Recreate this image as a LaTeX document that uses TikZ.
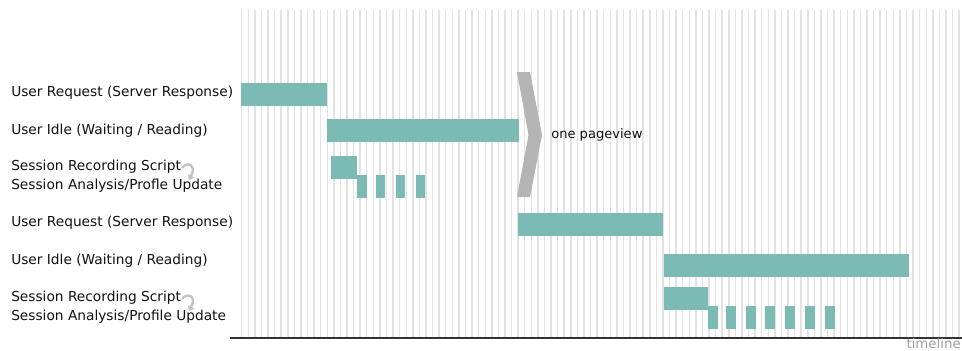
\documentclass[tikz,border=0pt]{standalone}
\usepackage{fontspec}
\setmainfont{DejaVu Sans}
\usetikzlibrary{arrows.meta}
\definecolor{barteal}{HTML}{7BBAB5}
\definecolor{gridgray}{HTML}{E2E2E2}
\definecolor{chevgray}{HTML}{B4B4B4}
\definecolor{axisdark}{HTML}{333333}
\definecolor{labeltext}{HTML}{111111}
\tikzset{
  bar/.style={fill=barteal},
  lbl/.style={anchor=west, inner sep=0pt, font=\fontsize{10.3pt}{12pt}\selectfont, text=labeltext},
  gridline/.style={draw=gridgray, line width=1.1pt},
  curlyarrow/.style={draw=chevgray!80, line width=1.8pt, -{Triangle[length=3.5pt,width=5.5pt]}},
}
\begin{document}
\begin{tikzpicture}[x=0.75pt,y=-0.75pt]
\useasboundingbox (0,0) rectangle (962,350);
% grid
\foreach \k in {0,...,109} {
  \draw[gridline] ({241.7+6.582*\k},10) -- ({241.7+6.582*\k},337);
}
% axis
\coordinate (axL) at (230,338);
\coordinate (axR) at (962,338);
\draw[axisdark, line width=1.9pt] (axL) -- (axR);
\node[anchor=base east, inner sep=0pt, text=gray!75, font=\fontsize{10pt}{12pt}\selectfont] (tl) at (961,348.5) {timeline};
% labels
\node[lbl] (l1) at (11,93) {User Request (Server Response)};
\node[lbl] (l2) at (11,131) {User Idle (Waiting / Reading)};
\node[lbl] (l3) at (11,167) {Session Recording Script};
\node[lbl] (l4) at (11,186) {Session Analysis/Profle Update};
\node[lbl] (l5) at (11,223) {User Request (Server Response)};
\node[lbl] (l6) at (11,261) {User Idle (Waiting / Reading)};
\node[lbl] (l7) at (11,298) {Session Recording Script};
\node[lbl] (l8) at (11,317) {Session Analysis/Profile Update};
% curly arrows
\draw[curlyarrow] (182,168) .. controls (187,161) and (197,165) .. (189,180);
\draw[curlyarrow] (182,299) .. controls (187,292) and (197,296) .. (189,311);
% bars group 1
\fill[bar] (241,82.5) rectangle (327,106);
\fill[bar] (327,118.5) rectangle (519,142);
\fill[bar] (331,156) rectangle (357,179);
\foreach \x in {357.3,375.7,395.7,415.7} {
  \fill[bar] (\x,175) rectangle ({\x+9.7},198);
}
% chevron
\fill[chevgray] (517,72) -- (530,72) -- (542,135) -- (530,197) -- (517,197) -- (528.5,135) -- cycle;
\node[anchor=west, inner sep=0pt, font=\fontsize{9.8pt}{12pt}\selectfont, text=labeltext] (pv) at (551,135) {one pageview};
% bars group 2
\fill[bar] (518,213) rectangle (663,236);
\fill[bar] (664,254) rectangle (909,277);
\fill[bar] (664,287) rectangle (708,310);
\foreach \x in {708,726,746,765.3,785.3,805,825} {
  \fill[bar] (\x,305.5) rectangle ({\x+9.7},328.5);
}
\end{tikzpicture}
\end{document}
